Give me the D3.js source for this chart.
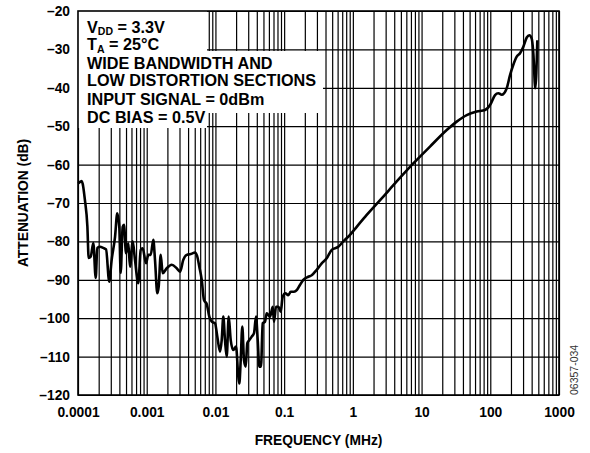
<!DOCTYPE html>
<html>
<head>
<meta charset="utf-8">
<script src="https://cdn.jsdelivr.net/npm/d3@7"></script>
<style>
  body { margin: 0; background: #fff; }
  svg { display: block; font-family: Arial, 'Liberation Sans', sans-serif; }
</style>
</head>
<body>
<svg width="590" height="453"></svg>
<script>
// frequency (MHz) and attenuation (dB)
var freqMHz = [
  1.01e-4, 1.13e-4, 1.26e-4, 1.37e-4, 1.43e-4, 1.53e-4, 1.67e-4, 1.81e-4, 1.91e-4, 2.09e-4,
  2.33e-4, 2.56e-4, 2.85e-4, 3.09e-4, 3.46e-4, 3.73e-4, 3.99e-4, 4.18e-4, 4.47e-4, 4.67e-4,
  5.00e-4, 5.40e-4, 5.71e-4, 6.25e-4, 6.75e-4, 7.54e-4, 8.18e-4, 8.74e-4, 9.77e-4, 1.055e-3,
  1.143e-3, 1.247e-3, 1.320e-3, 1.426e-3, 1.494e-3, 1.598e-3, 1.709e-3, 1.954e-3, 2.311e-3, 2.732e-3,
  3.052e-3, 3.408e-3, 3.819e-3, 4.368e-3, 5.044e-3, 5.449e-3, 5.828e-3, 6.316e-3, 6.822e-3, 7.467e-3,
  8.146e-3, 8.829e-3, 9.86e-3, 1.065e-2, 1.166e-2, 1.234e-2, 1.302e-2, 1.378e-2, 1.459e-2, 1.561e-2,
  1.669e-2, 1.821e-2, 1.993e-2, 2.153e-2, 2.226e-2, 2.333e-2, 2.462e-2, 2.606e-2, 2.759e-2, 2.911e-2,
  3.113e-2, 3.373e-2, 3.643e-2, 3.896e-2, 4.124e-2, 4.351e-2, 4.606e-2, 4.876e-2, 5.267e-2, 5.576e-2,
  6.228e-2, 6.820e-2, 7.123e-2, 7.615e-2, 8.228e-2, 8.914e-2, 9.533e-2, 0.104, 0.115, 0.1246,
  0.1392, 0.1524, 0.1663, 0.1901, 0.2248, 0.2519, 0.2979, 0.3523, 0.4165, 0.4924,
  0.6143, 0.7264, 0.9092, 1.138, 1.591, 2.57, 4.348, 7.584, 13.27, 23.23,
  32.48, 45.41, 63.49, 83.86, 99.13, 117.2, 130.9, 146.7, 173.5, 193.8,
  216.4, 242.5, 270.9, 302.7, 339.2, 370.0, 401.1, 423.1, 452.3, 483.8
];
var attenDb = [
  -64.9, -64.3, -69.2, -76.2, -84.3, -84.0, -80.4, -89.5, -81.7, -81.4,
  -81.7, -82.1, -90.5, -84.8, -78.8, -72.7, -76.2, -88.2, -76.2, -75.7,
  -83.1, -80.5, -86.6, -80.0, -84.8, -90.9, -82.2, -81.8, -85.7, -83.5,
  -83.5, -79.6, -84.8, -93.5, -91.8, -83.5, -88.3, -87.0, -86.1, -87.0,
  -87.9, -84.8, -83.5, -83.3, -82.9, -84.0, -86.6, -90.0, -95.3, -96.3,
  -99.6, -100.9, -101.3, -104.8, -108.7, -105.7, -99.6, -105.7, -110.0, -99.6,
  -105.7, -108.3, -107.4, -115.2, -117.0, -110.9, -102.2, -111.0, -112.6, -106.5,
  -105.7, -104.8, -103.9, -99.6, -105.7, -112.6, -112.6, -101.3, -100.9, -98.7,
  -99.6, -97.0, -100.9, -97.0, -97.0, -98.3, -94.4, -93.5, -94.0, -93.1,
  -93.1, -92.7, -91.6, -90.0, -89.2, -88.8, -87.4, -85.7, -84.4, -82.2,
  -81.4, -80.0, -78.3, -76.2, -73.1, -69.0, -64.4, -59.7, -55.3, -51.0,
  -48.8, -47.1, -46.2, -45.8, -44.5, -41.9, -41.4, -41.8, -40.1, -36.7,
  -34.0, -31.9, -31.0, -29.3, -26.9, -26.3, -27.2, -31.0, -40.1, -27.6
];

var xTickValues = [0.0001, 0.001, 0.01, 0.1, 1, 10, 100, 1000];
var xTickLabels = ['0.0001', '0.001', '0.01', '0.1', '1', '10', '100', '1000'];
var yTickValues = [-120, -110, -100, -90, -80, -70, -60, -50, -40, -30, -20];
var yTickLabels = ['–120', '–110', '–100', '–90', '–80', '–70', '–60', '–50', '–40', '–30', '–20'];

var legendLines = [
  { main: 'V', sub: 'DD', rest: ' = 3.3V' },
  { main: 'T', sub: 'A', rest: ' = 25°C' },
  { main: 'WIDE BANDWIDTH AND', sub: '', rest: '' },
  { main: 'LOW DISTORTION SECTIONS', sub: '', rest: '' },
  { main: 'INPUT SIGNAL = 0dBm', sub: '', rest: '' },
  { main: 'DC BIAS = 0.5V', sub: '', rest: '' }
];

var svg = d3.select('svg');
var plot = { l: 78, r: 559, t: 11, b: 395 };

var x = d3.scaleLog().domain([1e-4, 1000]).range([plot.l, plot.r]);
var y = d3.scaleLinear().domain([-120, -20]).range([plot.b, plot.t]);

// minor grid: 1..9 in every decade
var gridX = [];
for (var e = -4; e < 3; e++) {
  for (var k = 1; k < 10; k++) gridX.push(k * Math.pow(10, e));
}
gridX.push(1000);

svg.append('g')
    .attr('transform', `translate(0, ${plot.b})`)
    .call(d3.axisBottom(x).tickValues(gridX).tickSize(-(plot.b - plot.t)).tickFormat(''))
    .call(g => g.select('.domain').remove())
    .selectAll('line').attr('stroke', '#000').attr('stroke-width', 1.2);

svg.append('g')
    .attr('transform', `translate(${plot.l}, 0)`)
    .call(d3.axisLeft(y).tickValues(yTickValues).tickSize(-(plot.r - plot.l)).tickFormat(''))
    .call(g => g.select('.domain').remove())
    .selectAll('line').attr('stroke', '#000').attr('stroke-width', 1.2);

// white boxes behind the notes
svg.append('rect').attr('x', plot.l).attr('y', plot.t)
    .attr('width', 207 - plot.l).attr('height', 128 - plot.t).attr('fill', '#fff');
svg.append('rect').attr('x', plot.l).attr('y', 51)
    .attr('width', 323 - plot.l).attr('height', 113 - 51).attr('fill', '#fff');

// frame
svg.append('rect')
    .attr('x', plot.l).attr('y', plot.t)
    .attr('width', plot.r - plot.l).attr('height', plot.b - plot.t)
    .attr('fill', 'none').attr('stroke', '#000').attr('stroke-width', 1.6);

// tick labels
svg.append('g')
    .attr('transform', `translate(0, ${plot.b})`)
    .call(d3.axisBottom(x).tickValues(xTickValues).tickSize(0).tickPadding(12)
        .tickFormat((d, i) => xTickLabels[i]))
    .call(g => g.select('.domain').remove())
    .selectAll('text')
    .attr('font-family', 'Arial, Liberation Sans, sans-serif')
    .attr('font-size', 13.8).attr('font-weight', 'bold').attr('fill', '#000');

svg.append('g')
    .attr('transform', `translate(${plot.l}, 0)`)
    .call(d3.axisLeft(y).tickValues(yTickValues).tickSize(0).tickPadding(8)
        .tickFormat((d, i) => yTickLabels[i]))
    .call(g => g.select('.domain').remove())
    .selectAll('text')
    .attr('font-family', 'Arial, Liberation Sans, sans-serif')
    .attr('font-size', 13.8).attr('font-weight', 'bold').attr('fill', '#000');

// axis titles
svg.append('text')
    .attr('x', (plot.l + plot.r) / 2).attr('y', 445)
    .attr('text-anchor', 'middle')
    .attr('font-size', 13.8).attr('font-weight', 'bold')
    .text('FREQUENCY (MHz)');

svg.append('text')
    .attr('transform', `translate(28, ${(plot.t + plot.b) / 2}) rotate(-90)`)
    .attr('text-anchor', 'middle')
    .attr('font-size', 13.8).attr('font-weight', 'bold')
    .text('ATTENUATION (dB)');

svg.append('text')
    .attr('transform', 'translate(578, 395) rotate(-90)')
    .attr('font-size', 10.5).attr('fill', '#333')
    .text('06357-034');

// notes
var baselines = [32.8, 50.3, 69.3, 86, 105, 123.3];
var notes = svg.append('g').attr('font-size', 16.2).attr('font-weight', 'bold');
legendLines.forEach(function (d, i) {
  var t = notes.append('text').attr('x', 87).attr('y', baselines[i]);
  t.append('tspan').text(d.main);
  if (d.sub) {
    t.append('tspan').attr('font-size', 10.5).attr('dy', 2.2).text(d.sub);
    t.append('tspan').attr('dy', -2.2).text(d.rest);
  }
});

// curve
var line = d3.line()
    .x((d, i) => x(freqMHz[i]))
    .y(d => y(d))
    .curve(d3.curveMonotoneX);

svg.append('path')
    .datum(attenDb)
    .attr('d', line)
    .attr('fill', 'none')
    .attr('stroke', '#000')
    .attr('stroke-width', 2.6)
    .attr('stroke-linejoin', 'round');
</script>
</body>
</html>
